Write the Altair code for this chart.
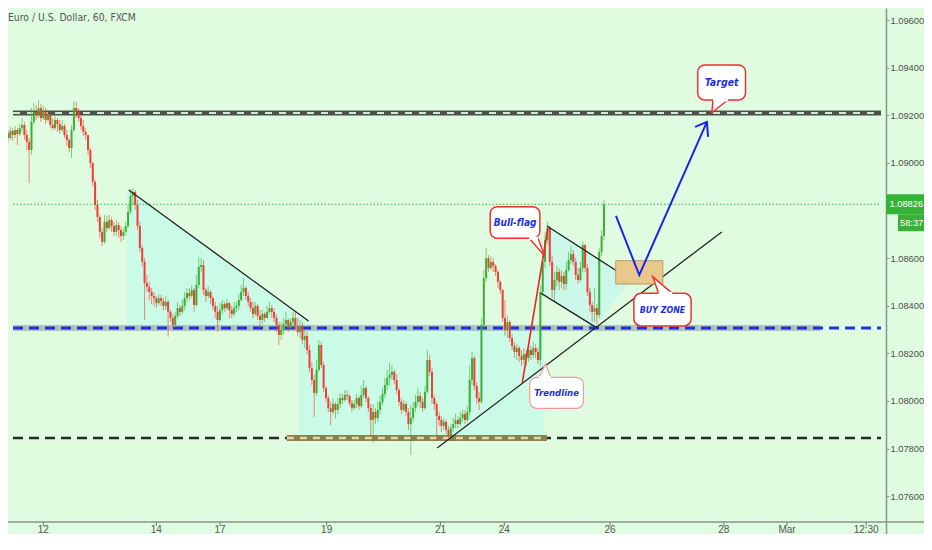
import pandas as pd
import altair as alt

# EUR/USD hourly candles, one per trading hour (weekends skipped like the TradingView axis)
closes = [
    1.09125, 1.09104, 1.09134, 1.09117, 1.09138, 1.09121, 1.09146, 1.09159, 1.09117, 1.09088,
    1.09054, 1.09172, 1.09214, 1.09201, 1.09230, 1.09188, 1.09214, 1.09180, 1.09205, 1.09159,
    1.09146, 1.09180, 1.09163, 1.09138, 1.09155, 1.09117, 1.09096, 1.09062, 1.09138, 1.09230,
    1.09214, 1.09188, 1.09155, 1.09130, 1.09117, 1.09054, 1.08999, 1.08920, 1.08823, 1.08773,
    1.08710, 1.08668, 1.08752, 1.08726, 1.08760, 1.08735, 1.08710, 1.08739, 1.08718, 1.08693,
    1.08710, 1.08735, 1.08794, 1.08861, 1.08878, 1.08823, 1.08735, 1.08642, 1.08584, 1.08495,
    1.08479, 1.08458, 1.08441, 1.08432, 1.08411, 1.08432, 1.08420, 1.08399, 1.08416, 1.08374,
    1.08348, 1.08319, 1.08357, 1.08390, 1.08374, 1.08399, 1.08432, 1.08453, 1.08441, 1.08466,
    1.08403, 1.08487, 1.08563, 1.08571, 1.08466, 1.08441, 1.08458, 1.08432, 1.08399, 1.08374,
    1.08340, 1.08382, 1.08407, 1.08390, 1.08411, 1.08382, 1.08365, 1.08390, 1.08399, 1.08424,
    1.08458, 1.08474, 1.08441, 1.08416, 1.08390, 1.08365, 1.08399, 1.08357, 1.08340, 1.08365,
    1.08348, 1.08374, 1.08390, 1.08374, 1.08348, 1.08319, 1.08277, 1.08298, 1.08323, 1.08340,
    1.08306, 1.08332, 1.08348, 1.08315, 1.08290, 1.08315, 1.08256, 1.08273, 1.08214, 1.08138,
    1.08088, 1.08033, 1.08130, 1.08235, 1.08151, 1.08054, 1.08012, 1.07970, 1.07954, 1.07987,
    1.07962, 1.07987, 1.08012, 1.08004, 1.08025, 1.08021, 1.07991, 1.07970, 1.07987, 1.08012,
    1.07979, 1.08025, 1.08054, 1.08012, 1.07970, 1.07920, 1.07954, 1.07928, 1.07962, 1.07996,
    1.08029, 1.08067, 1.08096, 1.08109, 1.08122, 1.08088, 1.08046, 1.07996, 1.07962, 1.07987,
    1.07954, 1.07903, 1.07928, 1.07970, 1.07996, 1.08021, 1.07996, 1.07970, 1.08038, 1.08172,
    1.08122, 1.08012, 1.07987, 1.07937, 1.07920, 1.07895, 1.07912, 1.07878, 1.07853, 1.07886,
    1.07903, 1.07920, 1.07903, 1.07928, 1.07945, 1.07920, 1.07954, 1.08088, 1.08180, 1.08063,
    1.08012, 1.07996, 1.08319, 1.08516, 1.08600, 1.08558, 1.08584, 1.08567, 1.08542, 1.08500,
    1.08466, 1.08348, 1.08298, 1.08332, 1.08264, 1.08231, 1.08206, 1.08222, 1.08189, 1.08172,
    1.08197, 1.08180, 1.08214, 1.08193, 1.08222, 1.08206, 1.08172, 1.08458, 1.08584, 1.08676,
    1.08726, 1.08584, 1.08466, 1.08508, 1.08542, 1.08500, 1.08525, 1.08491, 1.08550, 1.08592,
    1.08617, 1.08584, 1.08529, 1.08508, 1.08558, 1.08655, 1.08558, 1.08458, 1.08403, 1.08374,
    1.08390, 1.08361, 1.08626, 1.08693, 1.08826,
]
highs = [
    1.09146, 1.09138, 1.09151, 1.09146, 1.09155, 1.09146, 1.09163, 1.09188, 1.09172, 1.09138,
    1.09104, 1.09230, 1.09251, 1.09243, 1.09264, 1.09247, 1.09239, 1.09230, 1.09222, 1.09214,
    1.09188, 1.09197, 1.09188, 1.09180, 1.09180, 1.09163, 1.09138, 1.09104, 1.09159, 1.09260,
    1.09256, 1.09230, 1.09205, 1.09180, 1.09146, 1.09117, 1.09062, 1.09003, 1.08928, 1.08844,
    1.08781, 1.08726, 1.08781, 1.08777, 1.08781, 1.08773, 1.08752, 1.08760, 1.08752, 1.08735,
    1.08726, 1.08752, 1.08823, 1.08890, 1.08894, 1.08886, 1.08844, 1.08752, 1.08655, 1.08600,
    1.08529, 1.08500, 1.08474, 1.08458, 1.08441, 1.08449, 1.08445, 1.08432, 1.08441, 1.08424,
    1.08382, 1.08365, 1.08374, 1.08416, 1.08403, 1.08424, 1.08458, 1.08474, 1.08474, 1.08487,
    1.08474, 1.08529, 1.08605, 1.08600, 1.08592, 1.08474, 1.08483, 1.08466, 1.08441, 1.08416,
    1.08399, 1.08411, 1.08424, 1.08416, 1.08428, 1.08416, 1.08399, 1.08416, 1.08416, 1.08449,
    1.08487, 1.08516, 1.08483, 1.08458, 1.08432, 1.08416, 1.08416, 1.08407, 1.08382, 1.08382,
    1.08374, 1.08399, 1.08416, 1.08403, 1.08390, 1.08361, 1.08332, 1.08332, 1.08348, 1.08374,
    1.08348, 1.08348, 1.08374, 1.08374, 1.08348, 1.08340, 1.08332, 1.08298, 1.08290, 1.08235,
    1.08164, 1.08109, 1.08172, 1.08256, 1.08248, 1.08164, 1.08063, 1.08025, 1.07996, 1.08012,
    1.07996, 1.08012, 1.08033, 1.08029, 1.08046, 1.08046, 1.08029, 1.08004, 1.08004, 1.08029,
    1.08021, 1.08063, 1.08088, 1.08063, 1.08021, 1.07987, 1.07987, 1.07970, 1.07996, 1.08021,
    1.08054, 1.08096, 1.08130, 1.08159, 1.08151, 1.08130, 1.08113, 1.08054, 1.08012, 1.08004,
    1.07996, 1.07970, 1.07983, 1.07996, 1.08025, 1.08054, 1.08038, 1.08012, 1.08063, 1.08214,
    1.08193, 1.08138, 1.08025, 1.07996, 1.07954, 1.07937, 1.07928, 1.07920, 1.07895, 1.07903,
    1.07928, 1.07945, 1.07937, 1.07954, 1.07962, 1.07962, 1.07979, 1.08151, 1.08206, 1.08189,
    1.08080, 1.08038, 1.08348, 1.08550, 1.08642, 1.08613, 1.08609, 1.08600, 1.08575, 1.08550,
    1.08508, 1.08470, 1.08424, 1.08361, 1.08340, 1.08281, 1.08248, 1.08239, 1.08231, 1.08214,
    1.08222, 1.08214, 1.08239, 1.08231, 1.08248, 1.08239, 1.08222, 1.08487, 1.08613, 1.08710,
    1.08752, 1.08735, 1.08609, 1.08542, 1.08567, 1.08558, 1.08550, 1.08542, 1.08584, 1.08626,
    1.08651, 1.08634, 1.08600, 1.08558, 1.08584, 1.08668, 1.08659, 1.08575, 1.08474, 1.08416,
    1.08474, 1.08407, 1.08642, 1.08718, 1.08844,
]
lows = [
    1.09088, 1.09083, 1.09096, 1.09092, 1.09104, 1.09075, 1.09113, 1.09130, 1.09096, 1.09054,
    1.08915, 1.09033, 1.09159, 1.09180, 1.09188, 1.09172, 1.09180, 1.09163, 1.09172, 1.09146,
    1.09138, 1.09138, 1.09130, 1.09121, 1.09130, 1.09104, 1.09071, 1.09046, 1.09020, 1.09130,
    1.09188, 1.09172, 1.09138, 1.09113, 1.09096, 1.09033, 1.08978, 1.08903, 1.08802, 1.08752,
    1.08684, 1.08651, 1.08659, 1.08710, 1.08718, 1.08710, 1.08693, 1.08693, 1.08684, 1.08668,
    1.08676, 1.08693, 1.08726, 1.08785, 1.08823, 1.08802, 1.08718, 1.08626, 1.08567, 1.08340,
    1.08458, 1.08424, 1.08407, 1.08399, 1.08390, 1.08403, 1.08399, 1.08382, 1.08382, 1.08269,
    1.08332, 1.08306, 1.08306, 1.08348, 1.08357, 1.08365, 1.08382, 1.08416, 1.08424, 1.08432,
    1.08374, 1.08395, 1.08474, 1.08542, 1.08445, 1.08416, 1.08432, 1.08407, 1.08382, 1.08348,
    1.08290, 1.08332, 1.08365, 1.08374, 1.08382, 1.08348, 1.08348, 1.08357, 1.08374, 1.08382,
    1.08416, 1.08441, 1.08424, 1.08399, 1.08374, 1.08348, 1.08357, 1.08340, 1.08306, 1.08323,
    1.08332, 1.08348, 1.08365, 1.08348, 1.08332, 1.08290, 1.08235, 1.08256, 1.08281, 1.08315,
    1.08290, 1.08298, 1.08315, 1.08298, 1.08273, 1.08264, 1.08239, 1.08222, 1.08197, 1.08122,
    1.08067, 1.07933, 1.08021, 1.08122, 1.08138, 1.08038, 1.07996, 1.07954, 1.07899, 1.07945,
    1.07928, 1.07945, 1.07970, 1.07987, 1.07996, 1.08004, 1.07979, 1.07954, 1.07962, 1.07970,
    1.07962, 1.07970, 1.08012, 1.07996, 1.07954, 1.07849, 1.07824, 1.07903, 1.07912, 1.07945,
    1.07983, 1.08012, 1.08046, 1.08063, 1.08088, 1.08071, 1.08029, 1.07979, 1.07945, 1.07954,
    1.07937, 1.07878, 1.07773, 1.07912, 1.07954, 1.07979, 1.07970, 1.07954, 1.07962, 1.08029,
    1.08105, 1.07987, 1.07962, 1.07836, 1.07895, 1.07870, 1.07878, 1.07861, 1.07836, 1.07844,
    1.07870, 1.07886, 1.07886, 1.07895, 1.07912, 1.07903, 1.07912, 1.07937, 1.08067, 1.08046,
    1.07987, 1.07962, 1.07987, 1.08298, 1.08500, 1.08542, 1.08550, 1.08542, 1.08525, 1.08474,
    1.08449, 1.08332, 1.08273, 1.08264, 1.08248, 1.08214, 1.08180, 1.08172, 1.08164, 1.08147,
    1.08155, 1.08147, 1.08164, 1.08172, 1.08180, 1.08180, 1.08155, 1.08147, 1.08441, 1.08558,
    1.08659, 1.08567, 1.08432, 1.08416, 1.08483, 1.08466, 1.08474, 1.08466, 1.08466, 1.08542,
    1.08575, 1.08567, 1.08508, 1.08491, 1.08500, 1.08542, 1.08542, 1.08441, 1.08374, 1.08332,
    1.08332, 1.08323, 1.08348, 1.08609, 1.08676,
]
first_open = 1.09113

# date labels sit at candle positions
day_pos = [16, 64, 91, 136.3, 184.6, 211.7, 256.6, 304.9, 331.7, 365.3]
day_text = ["12", "14", "17", "19", "21", "24", "26", "28", "Mar", "12:30"]
price_ticks = [1.076, 1.078, 1.080, 1.082, 1.084, 1.086, 1.090, 1.092, 1.094, 1.096]

last_price = 1.08826
countdown = "58:37"
resistance = 1.09209
support_mid = 1.08306
support_low = 1.07844

FONT = "DejaVu Sans Condensed, Liberation Sans, sans-serif"
NUM_FONT = "Liberation Sans, sans-serif"
BG = "#e0fce0"
FILL = "#c9fbe6"
UP, DOWN = "#3caf32", "#f23c37"
BLUE_TXT = "#2030d8"

W, H = 878, 526
X0, X1 = 3.15, 371.6
X = alt.Scale(domain=[X0, X1], nice=False, zero=False)
Y = alt.Scale(domain=[1.074412, 1.096504], nice=False, zero=False)

# same axis on every layer so the layered axes merge into one right-hand price axis
yaxis = alt.Axis(orient="right", values=price_ticks, format=".5f", title=None, grid=False,
                 domainColor="#8c938c", domainWidth=1.5, tickColor="#8c938c", tickSize=3,
                 labelColor="#4d4d4d", labelFont=NUM_FONT, labelFontSize=9.3, labelPadding=1)


def xq(f="x"):
    return alt.X(f"{f}:Q", scale=X, axis=None)


def yq(f="y"):
    return alt.Y(f"{f}:Q", scale=Y, axis=yaxis)


def seg(xs, ys, **kw):
    d = pd.DataFrame({"x": xs, "y": ys, "o": list(range(len(xs)))})
    return alt.Chart(d).mark_line(**kw).encode(x=xq(), y=yq(), order="o:Q")


def box(x0, x1, y0, y1, **kw):
    d = pd.DataFrame({"x": [x0], "x2": [x1], "y": [y0], "y2": [y1]})
    return alt.Chart(d).mark_rect(**kw).encode(x=xq(), x2="x2:Q", y=yq(), y2="y2:Q")


def hline(price, x0=X0, x1=X1, **kw):
    d = pd.DataFrame({"x": [x0], "x2": [x1], "y": [price]})
    return alt.Chart(d).mark_rule(**kw).encode(x=xq(), x2="x2:Q", y=yq())


def label(x, y, text, **kw):
    d = pd.DataFrame({"x": [x], "y": [y], "t": [text]})
    return alt.Chart(d).mark_text(**kw).encode(x=xq(), y=yq(), text="t:N")


def callout(x0, x1, y0, y1, tail, text, edge="#ee3030", sw=1.5, size=10):
    tx = [p[0] for p in tail]
    ty = [p[1] for p in tail]
    return [
        seg(tx, ty, fill="white", stroke=edge, strokeWidth=sw),
        box(x0, x1, y0, y1, fill="white", stroke=edge, strokeWidth=sw, cornerRadius=7),
        seg([tx[0], tx[2]], [ty[0], ty[2]], stroke="white", strokeWidth=sw + 1.5),
        label((x0 + x1) / 2, (y0 + y1) / 2, text, font=FONT, fontSize=size,
              fontStyle="italic", fontWeight="bold", color=BLUE_TXT),
    ]


candles = pd.DataFrame({"idx": list(range(len(closes))), "close": closes,
                        "high": highs, "low": lows})
candles["open"] = [first_open] + closes[:-1]
candles["col"] = [UP if c >= o else DOWN for c, o in zip(candles["close"], candles["open"])]

layers = []

# shaded zones
tri = pd.DataFrame({"x": [51.4, 132.7], "y": [1.08890, support_mid], "y2": [support_mid, support_mid]})
layers.append(alt.Chart(tri).mark_area(color=FILL).encode(x=xq(), y=yq(), y2="y2:Q"))
layers.append(box(124.4, 228.5, support_low, support_mid, color=FILL))
layers.append(seg([229.8, 265.4, 250.3, 227.2], [1.08735, 1.08508, 1.08311, 1.08453],
                  fill="#cbf8e8", strokeOpacity=0))

# horizontal levels
layers.append(hline(support_mid, X0, 346, color="#9fb3a6", strokeWidth=6, opacity=0.75))
layers.append(hline(support_mid, color="#1f2fe6", strokeWidth=3, strokeDash=[10, 6]))
layers.append(hline(resistance, color="#4a524a", strokeWidth=5))
layers.append(hline(resistance, color="#cfe8cf", strokeWidth=2, strokeDash=[7, 7]))
layers.append(hline(support_low, color="#2a2a2a", strokeWidth=2.5, strokeDash=[10, 6]))
layers.append(hline(support_low, 119.4, 229.8, color="#8d7d4f", strokeWidth=6))
layers.append(hline(support_low, 119.4, 229.8, color="#ead8a0", strokeWidth=2.5, strokeDash=[7, 6]))
layers.append(hline(last_price, color="#2fbf2f", strokeWidth=1, strokeDash=[1.5, 2]))

# candles
base = alt.Chart(candles).encode(x=alt.X("idx:Q", scale=X, axis=None),
                                 color=alt.Color("col:N", scale=None))
layers.append(base.mark_rule(strokeWidth=1, opacity=0.6, clip=True).encode(
    y=yq("low"), y2="high:Q"))
layers.append(base.mark_bar(size=2.0, clip=True).encode(
    y=yq("open"), y2="close:Q"))

# drawn lines
layers.append(seg([52.25, 128.6], [1.08886, 1.08336], color="#222", strokeWidth=1.3))
layers.append(seg([183.2, 304.0], [1.07802, 1.08710], color="#222", strokeWidth=1.3))
layers.append(seg([229.8, 265.4], [1.08735, 1.08508], color="#222", strokeWidth=1.3))
layers.append(seg([227.2, 250.3], [1.08453, 1.08311], color="#222", strokeWidth=1.3))
layers.append(seg([219.3, 230.2], [1.08075, 1.08726], color="#ee2222", strokeWidth=1.6))

# buy zone and projected path
layers.append(box(259.0, 279.0, 1.08491, 1.08589, fill="#e9c98b", stroke="#b69a66", strokeWidth=1))
layers.append(seg([259.1, 269.0, 297.7], [1.08777, 1.08529, 1.09172], color="#1b22f0", strokeWidth=2))
layers.append(seg([292.7, 297.7, 298.2], [1.09151, 1.09172, 1.09109], color="#1b22f0", strokeWidth=2))

# callouts
layers += callout(205.7, 226.8, 1.08683, 1.08816,
                  [(222.2, 1.08683), (228.9, 1.08609), (226.0, 1.08683)], "Bull-flag")
layers += callout(293.8, 314.1, 1.09264, 1.09411,
                  [(300.3, 1.09264), (299.8, 1.09211), (306.6, 1.09264)], "Target", size=10.5)
layers += callout(266.7, 291.0, 1.08315, 1.08452,
                  [(277.2, 1.08452), (274.7, 1.08522), (283.0, 1.08452)], "BUY ZONE", size=8.8)
layers += callout(222.5, 245.3, 1.07969, 1.08099,
                  [(226.4, 1.08099), (229.2, 1.08155), (231.4, 1.08099)], "Trendline",
                  edge="#f29a9a", sw=1.2, size=9.5)

# time axis drawn along the bottom
one = pd.DataFrame({"a": [0]})
layers.append(alt.Chart(one).mark_rule(color="#8c938c", strokeWidth=1.5).encode(
    x=alt.value(0), x2=alt.value(916), y=alt.value(514)))
days = pd.DataFrame({"pos": day_pos, "lab": day_text})
layers.append(alt.Chart(days).mark_rule(color="#777").encode(
    x=xq("pos"), y=alt.value(514), y2=alt.value(518)))
layers.append(alt.Chart(days).mark_text(font=NUM_FONT, fontSize=10, color="#555", baseline="middle").encode(
    x=xq("pos"), y=alt.value(522), text="lab:N"))

# title and live price tag
layers.append(alt.Chart(one).mark_text(font=FONT, fontSize=10.3, color="#555", align="left",
                                       baseline="middle").encode(
    x=alt.value(0), y=alt.value(9.5), text=alt.value("Euro / U.S. Dollar, 60, FXCM")))
tag = pd.DataFrame({"y": [last_price + 0.00042], "y2": [last_price - 0.00042]})
layers.append(alt.Chart(tag).mark_rect(color="#36b336").encode(
    x=alt.value(W), x2=alt.value(916), y=yq(), y2="y2:Q"))
clock = pd.DataFrame({"y": [last_price - 0.00042], "y2": [last_price - 0.00113]})
layers.append(alt.Chart(clock).mark_rect(color="#36b336").encode(
    x=alt.value(890), x2=alt.value(916), y=yq(), y2="y2:Q"))
price_txt = pd.DataFrame({"y": [last_price], "t": [f"{last_price:.5f}"]})
layers.append(alt.Chart(price_txt).mark_text(font=NUM_FONT, fontSize=9.3, color="white", align="left",
                                             baseline="middle").encode(
    x=alt.value(W + 3.5), y=yq(), text="t:N"))
clock_txt = pd.DataFrame({"y": [last_price - 0.000775], "t": [countdown]})
layers.append(alt.Chart(clock_txt).mark_text(font=NUM_FONT, fontSize=9.3, color="white", align="left",
                                             baseline="middle").encode(
    x=alt.value(892), y=yq(), text="t:N"))

chart = alt.layer(*layers).properties(
    width=W, height=H,
    autosize=alt.AutoSizeParams(type="none"),
    padding={"left": 0, "top": 0, "right": 916 - W, "bottom": 0},
    background=BG,
).configure_view(stroke=None, fill=BG)

chart.save("out.html", embed_options={"renderer": "svg", "actions": False})
